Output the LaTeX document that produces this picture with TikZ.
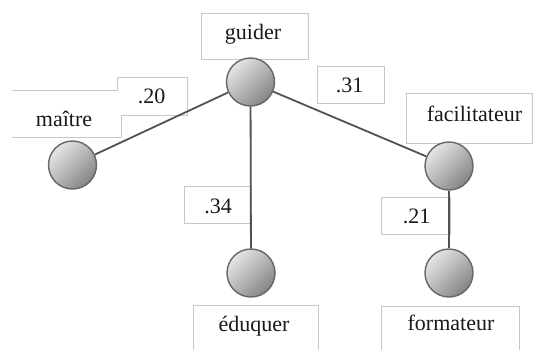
\documentclass[tikz,border=0pt]{standalone}
\usepackage{fontspec}
\setmainfont{Liberation Serif}
\begin{document}
\begin{tikzpicture}[x=1pt,y=-1pt,
  boxline/.style={draw=black!22, line width=1pt, fill=white},
  lbl/.style={anchor=base, inner sep=0pt, font=\fontsize{22}{25}\selectfont, text=black!90},
  ballnode/.style={circle, minimum size=48pt, inner sep=0pt, draw=black!60, line width=1.4pt,
                   top color=black!10, bottom color=black!48, shading angle=45},
  edge/.style={draw=black!68, line width=1.8pt}]
\useasboundingbox (0,0) rectangle (533,349);
% label boxes
\draw[boxline] (201,13) rectangle (308,59);
\draw[boxline] (317,66) rectangle (384,103);
\draw[boxline] (406,93) rectangle (532.5,143);
\draw[boxline] (184,186) rectangle (251,223);
\draw[boxline] (381,197) rectangle (450,234);
\draw[boxline] (193,305) -- (193,350) (318,350) -- (318,305) -- (193,305);
\draw[boxline] (381,306) -- (381,350) (519,350) -- (519,306) -- (381,306);
\fill[white] (12,90) -- (117,90) -- (117,77) -- (187,77) -- (187,115) -- (121,115) -- (121,137) -- (12,137) -- cycle;
\draw[draw=black!22, line width=1pt] (12,90) -- (117,90) -- (117,77) -- (187,77) -- (187,115) -- (121,115) -- (121,137) -- (12,137);
% texts
\node[lbl] (tguider) at (253,39) {guider};
\node[lbl] (tmaitre) at (64,126) {maître};
\node[lbl] (t20) at (151.5,103) {.20};
\node[lbl] (t31) at (349.5,92) {.31};
\node[lbl] (tfacil) at (474.5,121) {facilitateur};
\node[lbl] (t34) at (218,213) {.34};
\node[lbl] (t21) at (416.5,223) {.21};
\node[lbl] (teduq) at (254,331) {éduquer};
\node[lbl] (tform) at (451,330) {formateur};
% circles
\node[ballnode] (g) at (250.5,82) {};
\node[ballnode] (m) at (72.5,165) {};
\node[ballnode] (f) at (449,166) {};
\node[ballnode] (e) at (251,273) {};
\node[ballnode] (fo) at (449,273) {};
% connectors
\draw[edge] (g) -- (m);
\draw[edge] (g) -- (e);
\draw[edge] (g) -- (f);
\draw[edge] (f) -- (fo);
\end{tikzpicture}
\end{document}
